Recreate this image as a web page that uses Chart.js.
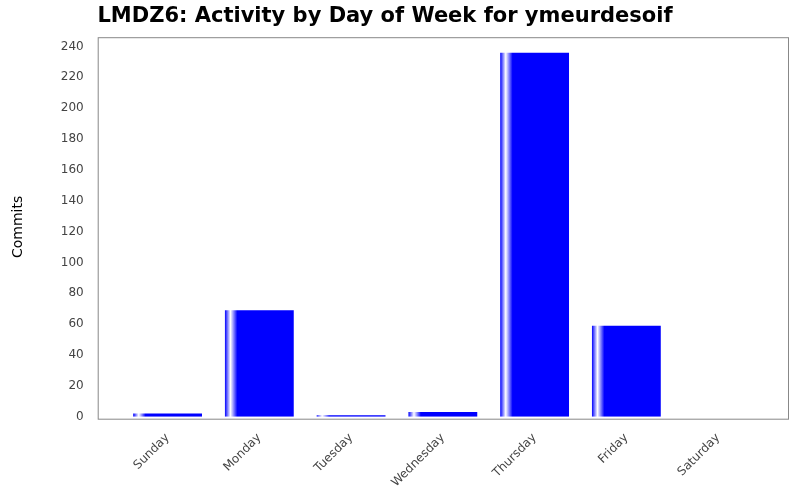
<!DOCTYPE html>
<html>
<head>
<meta charset="utf-8">
<script src="https://cdn.jsdelivr.net/npm/chart.js@4"></script>
<style>
  body { margin: 0; background: #fff; }
  #wrap { width: 800px; height: 500px; }
</style>
</head>
<body>
<div id="wrap"><canvas id="chart"></canvas></div>
<script>
const days = ['Sunday', 'Monday', 'Tuesday', 'Wednesday', 'Thursday', 'Friday', 'Saturday'];
const commits = [2, 69, 1, 3, 236, 59, 0];
const MARGIN = 24;

// JFreeChart-like bar shading: white highlight near the left edge
function barFill(ctx) {
  const chart = ctx.chart;
  const xs = chart.scales.x;
  if (!xs || !xs.width || ctx.dataIndex === undefined) return '#0000ff';
  const cx = xs.getPixelForValue(ctx.dataIndex);
  const w = (xs.width / days.length) * 0.75;
  const left = cx - w / 2;
  const g = chart.ctx.createLinearGradient(left, 0, left + w, 0);
  g.addColorStop(0, '#0000ff');
  g.addColorStop(0.08, '#ffffff');
  g.addColorStop(0.18, '#0000ff');
  g.addColorStop(1, '#0000ff');
  return g;
}

const frame = {
  id: 'frame',
  afterDraw(chart) {
    const { ctx, chartArea: a } = chart;
    ctx.save();
    ctx.strokeStyle = '#888';
    ctx.lineWidth = 1;
    ctx.strokeRect(a.left - MARGIN + 0.5, a.top + 0.5, a.right - a.left + 2 * MARGIN, a.bottom - a.top + 2);
    ctx.restore();
  }
};

new Chart(document.getElementById('chart'), {
  type: 'bar',
  data: {
    labels: days,
    datasets: [{
      data: commits,
      backgroundColor: barFill,
      barPercentage: 0.75,
      categoryPercentage: 1
    }]
  },
  options: {
    responsive: true,
    maintainAspectRatio: false,
    animation: false,
    layout: { padding: { left: 6, right: 12 + MARGIN, top: 2, bottom: 4 } },
    plugins: {
      legend: { display: false },
      tooltip: { enabled: false },
      title: {
        display: true,
        text: 'LMDZ6: Activity by Day of Week for ymeurdesoif',
        color: '#000',
        font: { family: 'DejaVu Sans', size: 21, weight: 'bold' },
        padding: { top: 2, bottom: 8 }
      }
    },
    scales: {
      x: {
        grid: { display: false },
        border: { display: false },
        ticks: {
          color: '#444',
          maxRotation: 45,
          minRotation: 45,
          padding: 6,
          font: { family: 'DejaVu Sans', size: 12 }
        }
      },
      y: {
        min: 0,
        max: 246,
        grid: { display: false },
        border: { display: false },
        title: {
          display: true,
          text: 'Commits',
          color: '#000',
          font: { family: 'DejaVu Sans', size: 14 }
        },
        ticks: {
          stepSize: 20,
          autoSkip: false,
          color: '#444',
          padding: 6 + MARGIN,
          font: { family: 'DejaVu Sans', size: 12 }
        },
        afterBuildTicks(scale) {
          scale.ticks = [];
          for (let v = 0; v <= 240; v += 20) scale.ticks.push({ value: v });
        }
      }
    }
  },
  plugins: [frame]
});
</script>
</body>
</html>
